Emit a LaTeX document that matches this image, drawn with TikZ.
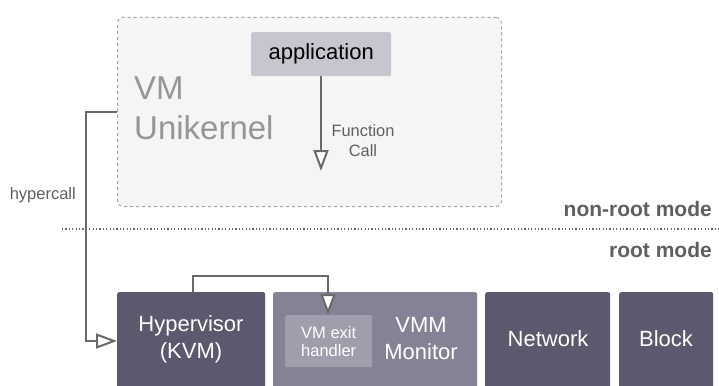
\documentclass[tikz,border=0pt]{standalone}
\usepackage{fontspec}
\setmainfont{Liberation Sans}
\usetikzlibrary{arrows.meta}
\definecolor{darkbox}{RGB}{93,88,110}
\definecolor{midbox}{RGB}{134,130,150}
\definecolor{innerbox}{RGB}{160,157,172}
\definecolor{appbox}{RGB}{199,197,206}
\definecolor{vmfill}{RGB}{245,245,245}
\definecolor{vmborder}{RGB}{165,165,165}
\definecolor{wire}{RGB}{105,105,105}
\definecolor{softtext}{RGB}{150,150,150}
\definecolor{modetext}{RGB}{95,95,95}
\tikzset{
  block/.style={draw=none, rounded corners=2pt, anchor=north west, inner sep=0pt},
  whitetext/.style={text=white, align=center, inner sep=0pt},
  flow/.style={draw=wire, line width=2.4pt,
    -{Triangle[open, length=21pt, width=15pt, fill=white, line width=2pt]}},
}
\begin{document}
\begin{tikzpicture}[x=1pt,y=-1pt]
  \useasboundingbox (0,0) rectangle (719,385);
  \clip (0,0) rectangle (719,385);
  \fill[white] (0,0) rectangle (719,385);

  % guest side
  \node[block, fill=vmfill, draw=vmborder, dashed, line width=1pt, rounded corners=5pt,
        minimum width=384pt, minimum height=189pt] (vm) at (117,17) {};
  \node[block, fill=appbox, minimum width=140pt, minimum height=44pt] (app) at (251,32) {};
  \node[font=\fontsize{22}{22}\selectfont, text=black] (apptext) at (app.center) {application};
  \node[font=\fontsize{33}{40}\selectfont, text=softtext, align=left, anchor=west,
        inner sep=0pt] (vmtext) at (134,108) {VM\\Unikernel};
  \coordinate (fcend) at (321,171);
  \draw[flow] (app.south -| fcend) -- (fcend);
  \node[font=\fontsize{16.4}{20}\selectfont, text=modetext, align=center, inner sep=0pt]
        (fclabel) at (363,141) {Function\\Call};

  % privilege boundary
  \coordinate (sepL) at (62,229);
  \coordinate (sepR) at (719,229);
  \draw[wire, line width=1.2pt, dash pattern=on 1.2pt off 2.2pt] (sepL) -- (sepR);
  \node[font=\bfseries\fontsize{21}{21}\selectfont, text=modetext, anchor=east, inner sep=0pt]
        (nonroot) at (712,209) {non-root mode};
  \node[font=\bfseries\fontsize{21}{21}\selectfont, text=modetext, anchor=east, inner sep=0pt]
        (root) at (712,250) {root mode};

  % host side
  \node[block, fill=darkbox, minimum width=148pt, minimum height=100pt] (hv) at (117,292) {};
  \node[block, fill=midbox, minimum width=204pt, minimum height=100pt] (vmm) at (273,292) {};
  \node[block, fill=darkbox, minimum width=125pt, minimum height=100pt] (net) at (485,292) {};
  \node[block, fill=darkbox, minimum width=94pt, minimum height=100pt] (blk) at (619,292) {};
  \node[block, fill=innerbox, minimum width=87pt, minimum height=52pt] (exit) at (285,315) {};

  \node[whitetext, font=\fontsize{22}{27}\selectfont] (hvtext) at (191,339) {Hypervisor\\(KVM)};
  \node[whitetext, font=\fontsize{22}{27}\selectfont] (vmmtext) at (421,339) {VMM\\Monitor};
  \node[whitetext, font=\fontsize{22}{22}\selectfont] (nettext) at (548,339) {Network};
  \node[whitetext, font=\fontsize{22}{22}\selectfont] (blktext) at (666,339) {Block};
  \node[whitetext, font=\fontsize{16.5}{18}\selectfont] (exittext) at (exit.center) {VM exit\\handler};

  % hypercall path
  \coordinate (hcA) at (86,112);
  \coordinate (exitin) at (328,315);
  \draw[flow] (vm.west |- hcA) -- (hcA) |- (hv.west |- 0,341);
  \node[font=\fontsize{16.5}{16.5}\selectfont, text=modetext, anchor=east, inner sep=0pt]
        (hclabel) at (76,195) {hypercall};

  % exit path from the hypervisor into the monitor
  \coordinate (exittop) at (193,276);
  \draw[flow] (hv.north -| exittop) -- (exittop) -| (exitin);
\end{tikzpicture}
\end{document}
